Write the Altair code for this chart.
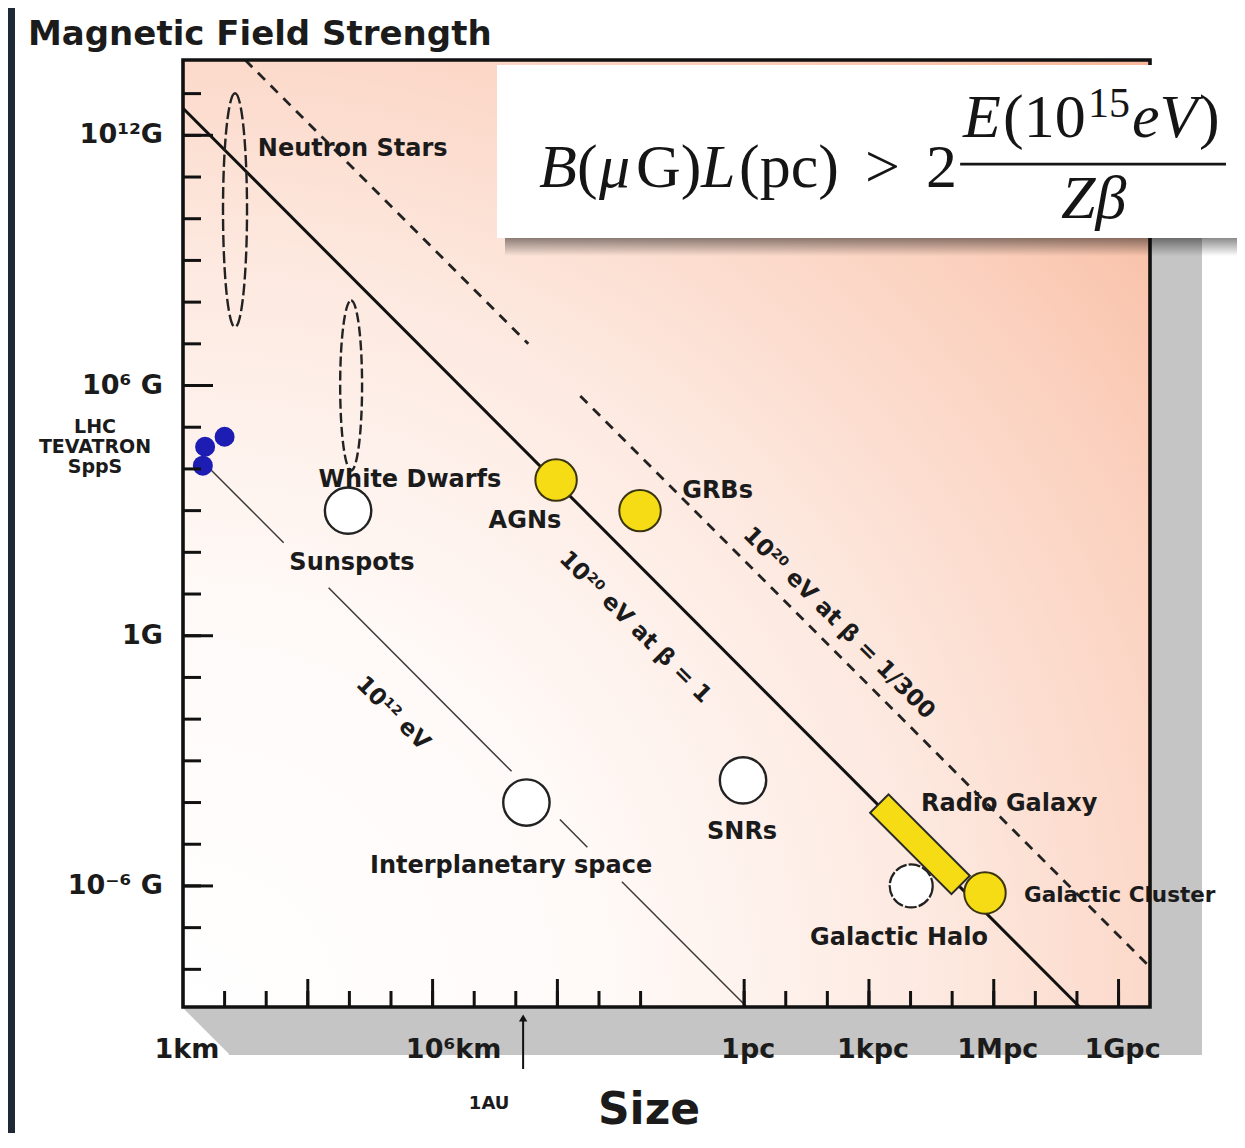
import altair as alt
import pandas as pd

# ------------------------------------------------------------------
# data  (size in km, magnetic field in gauss)
# ------------------------------------------------------------------
PC_KM = 3.086e13

X_DOMAIN = [1.0, 1.76e23]
Y_DOMAIN = [1.25e-9, 6.4e13]

y_tick_G = [10.0 ** k for k in range(-8, 14)]
y_long_tick_G = [1e-6, 1.0, 1e6, 1e12]
x_tick_km = [10.0 ** k for k in range(1, 12)] + [PC_KM * 10.0 ** k for k in range(0, 10)]
x_long_tick_km = [1e3, 1e6, 1e9, PC_KM, PC_KM * 1e3, PC_KM * 1e6, PC_KM * 1e9]

y_label_G = [1e12, 1e6, 1.0, 1e-6]
y_label_text = ["10¹²G", "10⁶ G", "1G", "10⁻⁶ G"]
x_label_km = [1.0, PC_KM, PC_KM * 1e3, PC_KM * 1e6, PC_KM * 1e9]
x_label_text = ["1km", "1pc", "1kpc", "1Mpc", "1Gpc"]
x_label2_km = [1e6]
x_label2_text = ["10⁶km"]
au_km = [1.5e8]

# accelerators
accel_names = ["LHC", "TEVATRON", "SppS"]
accel_size_km = [10.0, 3.4, 3.0]
accel_field_G = [5.9e4, 3.4e4, 1.2e4]
accel_label_G = [1.0e5, 3.35e4, 1.1e4]

# open circles
open_names = ["White Dwarfs", "Interplanetary space", "SNRs"]
open_size_km = [9.3e3, 1.8e8, 2.9e13]
open_field_G = [1.0e3, 1.0e-4, 3.4e-4]
halo_size_km = [3.2e17]
halo_field_G = [1.0e-6]

# yellow (filled) sources
yellow_names = ["AGNs", "GRBs", "Galactic Cluster"]
yellow_size_km = [9.3e8, 9.7e10, 1.9e19]
yellow_field_G = [5.4e3, 1.0e3, 6.8e-7]
radio_size_km = [5.2e17]
radio_field_G = [1.0e-5]

# dashed ellipses
ns_size_km = [17.8]
ns_field_G = [1.6e10]
wd_size_km = [1.1e4]
wd_field_G = [1.0e6]

# limit lines (segments)
thick_size = [1.0, 3.59e21]
thick_B = [4.47e12, 1.25e-9]
dash1_size = [31.3, 2.0e8]
dash1_B = [6.38e13, 1.0e7]
dash2_size = [3.55e9, 1.76e23]
dash2_B = [5.6e5, 1.13e-8]
thin_segs = [
    ([3.16, 263.0], [1.41e4, 170.0]),
    ([3.16e3, 7.9e7], [14.1, 5.6e-4]),
    ([1.15e9, 5.25e9], [3.9e-5, 8.5e-6]),
    ([3.55e10, 3.59e13], [1.26e-6, 1.25e-9]),
]

# text labels
lab_c_text = ["White Dwarfs", "Sunspots", "AGNs", "Interplanetary space", "SNRs", "Galactic Halo"]
lab_c_size = [2.86e5, 1.15e4, 1.66e8, 7.7e7, 2.75e13, 1.63e17]
lab_c_B = [5.4e3, 55.0, 564.0, 3.0e-6, 1.95e-5, 5.6e-8]
lab_l_text = ["Neutron Stars", "GRBs", "Radio Galaxy"]
lab_l_size = [63.0, 1.0e12, 5.5e17]
lab_l_B = [4.7e11, 2.95e3, 9.1e-5]
cluster_text = ["Galactic Cluster"]
cluster_size = [1.65e20]
cluster_B = [5.7e-7]
rot_text = ["10¹² eV", "10²⁰ eV at β = 1", "10²⁰ eV at β = 1/300"]
rot_size = [1.12e5, 7.4e10, 5.9e15]
rot_B = [1.38e-2, 1.62, 2.0]

# formula annotation (anchor + box in data space)
formula_anchor_size = [2.32e8]
formula_anchor_B = [5.7e10]
formula_box_size = [3.53e7, 2.2e25]
formula_box_B = [4.85e13, 3.44e9]
formula_shadow_size = [5.5e7, 2.2e25]
formula_shadow_B = [3.85e9, 1.27e9]
formula_bar_size = [4.8e18, 1.18e25]
formula_bar_B = [2.04e11]
formula_pieces = [
    ("B", 8, 0, "italic", 62), ("(", 46, 0, "normal", 62), ("μ", 68, 0, "italic", 62),
    ("G)", 105, 0, "normal", 62), ("L", 170, 0, "italic", 62), ("(pc)", 208, 0, "normal", 62),
    (">", 334, 0, "normal", 62), ("2", 395, 0, "normal", 62),
    ("E", 432, -50, "italic", 62), ("(10", 472, -50, "normal", 62), ("15", 557, -70, "normal", 42),
    ("eV", 601, -50, "italic", 62), (")", 668, -50, "normal", 62),
    ("Zβ", 530, 31, "italic", 62),
]

# ------------------------------------------------------------------
W, H = 967, 947
SANS = "DejaVu Sans"
SERIF = "Liberation Serif"
INK = "#1b1b1b"
DARK = "#1f2935"
YELLOW = "#f6dc14"
SHADOW = "#c5c5c5"

xs = alt.Scale(type="log", domain=X_DOMAIN, nice=False)
ys = alt.Scale(type="log", domain=Y_DOMAIN, nice=False)
one = alt.Data(values=[{"k": 0}])


def XQ(f="size"):
    return alt.X(f + ":Q", scale=xs, axis=None)


def YQ(f="B"):
    return alt.Y(f + ":Q", scale=ys, axis=None)


layers = []

# dark slide strip at the left
layers.append(alt.Chart(one).mark_rect(color=DARK).encode(
    x=alt.value(-175), x2=alt.value(-168), y=alt.value(-52), y2=alt.value(H + 126)))

# grey drop shadow of the plot frame
layers.append(alt.Chart(one).mark_rect(color=SHADOW).encode(
    x=alt.value(46), x2=alt.value(W + 52), y=alt.value(48), y2=alt.value(H + 48)))
layers.append(alt.Chart(one).mark_point(
    shape="M-1,-1L1,-1L1,1Z", size=46 ** 2, filled=True, fill=SHADOW, strokeWidth=0, opacity=1).encode(
    x=alt.value(23), y=alt.value(H + 24)))

# gradient plot background
grad = {
    "gradient": "radial", "x1": 0, "y1": 1, "r1": 0, "x2": 0, "y2": 1, "r2": 1.42,
    "stops": [
        {"offset": 0.0, "color": "#ffffff"},
        {"offset": 0.3, "color": "#fffaf8"},
        {"offset": 0.55, "color": "#fde9e0"},
        {"offset": 0.8, "color": "#fbcfbc"},
        {"offset": 1.0, "color": "#f7b698"},
    ],
}
layers.append(alt.Chart(one).mark_rect(fill=grad).encode(
    x=alt.value(0), x2=alt.value(W), y=alt.value(0), y2=alt.value(H)))

# lines
thin_rows = []
for i, (sx, by) in enumerate(thin_segs):
    for s, b in zip(sx, by):
        thin_rows.append({"size": s, "B": b, "seg": i})
thin_df = pd.DataFrame(thin_rows)
layers.append(alt.Chart(thin_df).mark_line(color="#3a3a3a", strokeWidth=1.5).encode(
    x=XQ(), y=YQ(), detail="seg:N"))

thick_df = pd.DataFrame({"size": thick_size, "B": thick_B})
layers.append(alt.Chart(thick_df).mark_line(color="#111111", strokeWidth=3).encode(x=XQ(), y=YQ()))

dash_df = pd.DataFrame({
    "size": dash1_size + dash2_size, "B": dash1_B + dash2_B, "seg": [0, 0, 1, 1]})
layers.append(alt.Chart(dash_df).mark_line(color="#222222", strokeWidth=2.8, strokeDash=[10, 8]).encode(
    x=XQ(), y=YQ(), detail="seg:N"))

# dashed ellipses
ns_path = "M0,-1A0.1026,1,0,1,1,0,1A0.1026,1,0,1,1,0,-1Z"
wd_path = "M0,-1A0.129,1,0,1,1,0,1A0.129,1,0,1,1,0,-1Z"
layers.append(alt.Chart(pd.DataFrame({"size": ns_size_km, "B": ns_field_G})).mark_point(
    shape=ns_path, size=234 ** 2, filled=False, stroke="#222222", strokeWidth=2.4,
    strokeDash=[12, 4], opacity=1).encode(x=XQ(), y=YQ()))
layers.append(alt.Chart(pd.DataFrame({"size": wd_size_km, "B": wd_field_G})).mark_point(
    shape=wd_path, size=170 ** 2, filled=False, stroke="#222222", strokeWidth=2.4,
    strokeDash=[10, 4], opacity=1).encode(x=XQ(), y=YQ()))

# open circles
layers.append(alt.Chart(pd.DataFrame({"size": open_size_km, "B": open_field_G})).mark_point(
    shape="circle", size=2150, filled=True, fill="#ffffff", stroke="#222222", strokeWidth=2.4,
    opacity=1).encode(x=XQ(), y=YQ()))
layers.append(alt.Chart(pd.DataFrame({"size": halo_size_km, "B": halo_field_G})).mark_point(
    shape="circle", size=1850, filled=True, fill="#ffffff", stroke="#222222", strokeWidth=2.2,
    strokeDash=[12, 2], opacity=1).encode(x=XQ(), y=YQ()))

# radio galaxy bar
bar_path = "M-1,-0.226L1,-0.226L1,0.226L-1,0.226Z"
layers.append(alt.Chart(pd.DataFrame({"size": radio_size_km, "B": radio_field_G})).mark_point(
    shape=bar_path, size=115 ** 2, angle=45, filled=True, fill=YELLOW, stroke="#2a2a2a",
    strokeWidth=2, opacity=1).encode(x=XQ(), y=YQ()))

# yellow circles
layers.append(alt.Chart(pd.DataFrame({"size": yellow_size_km, "B": yellow_field_G})).mark_point(
    shape="circle", size=1720, filled=True, fill=YELLOW, stroke="#3a3410", strokeWidth=2,
    opacity=1).encode(x=XQ(), y=YQ()))

# accelerators
layers.append(alt.Chart(pd.DataFrame({"size": accel_size_km, "B": accel_field_G})).mark_point(
    shape="circle", size=400, filled=True, fill="#1d1db4", stroke="#1d1db4", strokeWidth=0,
    opacity=1).encode(x=XQ(), y=YQ()))

# object labels
layers.append(alt.Chart(pd.DataFrame({"size": lab_c_size, "B": lab_c_B, "t": lab_c_text})).mark_text(
    font=SANS, fontWeight="bold", fontSize=24, color=INK, align="center", baseline="middle").encode(
    x=XQ(), y=YQ(), text="t:N"))
layers.append(alt.Chart(pd.DataFrame({"size": lab_l_size, "B": lab_l_B, "t": lab_l_text})).mark_text(
    font=SANS, fontWeight="bold", fontSize=24, color=INK, align="left", baseline="middle").encode(
    x=XQ(), y=YQ(), text="t:N"))
layers.append(alt.Chart(pd.DataFrame({"size": cluster_size, "B": cluster_B, "t": cluster_text})).mark_text(
    font=SANS, fontWeight="bold", fontSize=21.5, color=INK, align="left", baseline="middle").encode(
    x=XQ(), y=YQ(), text="t:N"))
layers.append(alt.Chart(pd.DataFrame({"size": rot_size, "B": rot_B, "t": rot_text})).mark_text(
    font=SANS, fontWeight="bold", fontSize=23, color=INK, align="center", baseline="middle",
    angle=45).encode(x=XQ(), y=YQ(), text="t:N"))

# ticks
layers.append(alt.Chart(pd.DataFrame({"B": y_tick_G})).mark_rule(color="#111111", strokeWidth=3).encode(
    y=YQ(), x=alt.value(0), x2=alt.value(18)))
layers.append(alt.Chart(pd.DataFrame({"B": y_long_tick_G})).mark_rule(color="#111111", strokeWidth=3).encode(
    y=YQ(), x=alt.value(0), x2=alt.value(30)))
layers.append(alt.Chart(pd.DataFrame({"size": x_tick_km})).mark_rule(color="#111111", strokeWidth=3).encode(
    x=XQ(), y=alt.value(H), y2=alt.value(H - 16)))
layers.append(alt.Chart(pd.DataFrame({"size": x_long_tick_km})).mark_rule(color="#111111", strokeWidth=3).encode(
    x=XQ(), y=alt.value(H), y2=alt.value(H - 28)))

# frame
layers.append(alt.Chart(one).mark_rect(fillOpacity=0, stroke="#111111", strokeWidth=3.6).encode(
    x=alt.value(0), x2=alt.value(W), y=alt.value(0), y2=alt.value(H)))

# formula box
shadow_grad = {
    "gradient": "linear", "x1": 0, "y1": 0, "x2": 0, "y2": 1,
    "stops": [{"offset": 0, "color": "rgba(0,0,0,0.5)"}, {"offset": 1, "color": "rgba(0,0,0,0)"}],
}
layers.append(alt.Chart(pd.DataFrame({
    "size": [formula_shadow_size[0]], "size2": [formula_shadow_size[1]],
    "B": [formula_shadow_B[0]], "B2": [formula_shadow_B[1]]})).mark_rect(fill=shadow_grad).encode(
    x=XQ(), x2="size2:Q", y=YQ(), y2="B2:Q"))
layers.append(alt.Chart(pd.DataFrame({
    "size": [formula_box_size[0]], "size2": [formula_box_size[1]],
    "B": [formula_box_B[0]], "B2": [formula_box_B[1]]})).mark_rect(color="#ffffff").encode(
    x=XQ(), x2="size2:Q", y=YQ(), y2="B2:Q"))
anchor_df = pd.DataFrame({"size": formula_anchor_size, "B": formula_anchor_B})
for txt, dx, dy, style, fs in formula_pieces:
    layers.append(alt.Chart(anchor_df).mark_text(
        text=txt, dx=dx, dy=dy, font=SERIF, fontStyle=style, fontSize=fs, color="#151515",
        align="left", baseline="alphabetic").encode(x=XQ(), y=YQ()))
layers.append(alt.Chart(pd.DataFrame({
    "size": [formula_bar_size[0]], "size2": [formula_bar_size[1]], "B": formula_bar_B})).mark_rule(
    color="#151515", strokeWidth=2.6).encode(x=XQ(), x2="size2:Q", y=YQ()))

# axis labels
layers.append(alt.Chart(pd.DataFrame({"B": y_label_G, "t": y_label_text})).mark_text(
    font=SANS, fontWeight="bold", fontSize=27, color=INK, align="right", baseline="middle").encode(
    y=YQ(), x=alt.value(-20), text="t:N"))
layers.append(alt.Chart(pd.DataFrame({"B": accel_label_G, "t": accel_names})).mark_text(
    font=SANS, fontWeight="bold", fontSize=19, color=INK, align="center", baseline="middle").encode(
    y=YQ(), x=alt.value(-88), text="t:N"))
layers.append(alt.Chart(pd.DataFrame({"size": x_label_km, "t": x_label_text})).mark_text(
    font=SANS, fontWeight="bold", fontSize=27, color=INK, align="center", baseline="middle", dx=4).encode(
    x=XQ(), y=alt.value(H + 43), text="t:N"))
layers.append(alt.Chart(pd.DataFrame({"size": x_label2_km, "t": x_label2_text})).mark_text(
    font=SANS, fontWeight="bold", fontSize=27, color=INK, align="center", baseline="middle", dx=21).encode(
    x=XQ(), y=alt.value(H + 43), text="t:N"))

# 1 AU arrow
au_df = pd.DataFrame({"size": au_km})
layers.append(alt.Chart(au_df).mark_rule(color="#111111", strokeWidth=2).encode(
    x=XQ(), y=alt.value(H + 10), y2=alt.value(H + 62)))
layers.append(alt.Chart(au_df).mark_point(shape="triangle-up", size=70, filled=True, color="#111111",
                                          opacity=1).encode(x=XQ(), y=alt.value(H + 11)))
layers.append(alt.Chart(au_df).mark_text(text="1AU", font=SANS, fontWeight="bold", fontSize=18, color=INK,
                                         align="center", baseline="middle", dx=-34).encode(
    x=XQ(), y=alt.value(H + 97)))

# titles
layers.append(alt.Chart(one).mark_text(text="Size", font=SANS, fontWeight="bold", fontSize=44, color=INK,
                                       align="center", baseline="middle").encode(
    x=alt.value(466), y=alt.value(H + 104)))
layers.append(alt.Chart(one).mark_text(text="Magnetic Field Strength", font=SANS, fontWeight="bold",
                                       fontSize=34, color=INK, align="left", baseline="alphabetic").encode(
    x=alt.value(-155), y=alt.value(-15)))

chart = alt.layer(*layers).properties(
    width=W, height=H,
    padding={"left": 175, "top": 52, "right": 87, "bottom": 126},
    autosize=alt.AutoSizeParams(type="none"),
    background="white",
).configure_view(stroke=None)

chart.save("out.html", embed_options={"renderer": "svg", "actions": False})
